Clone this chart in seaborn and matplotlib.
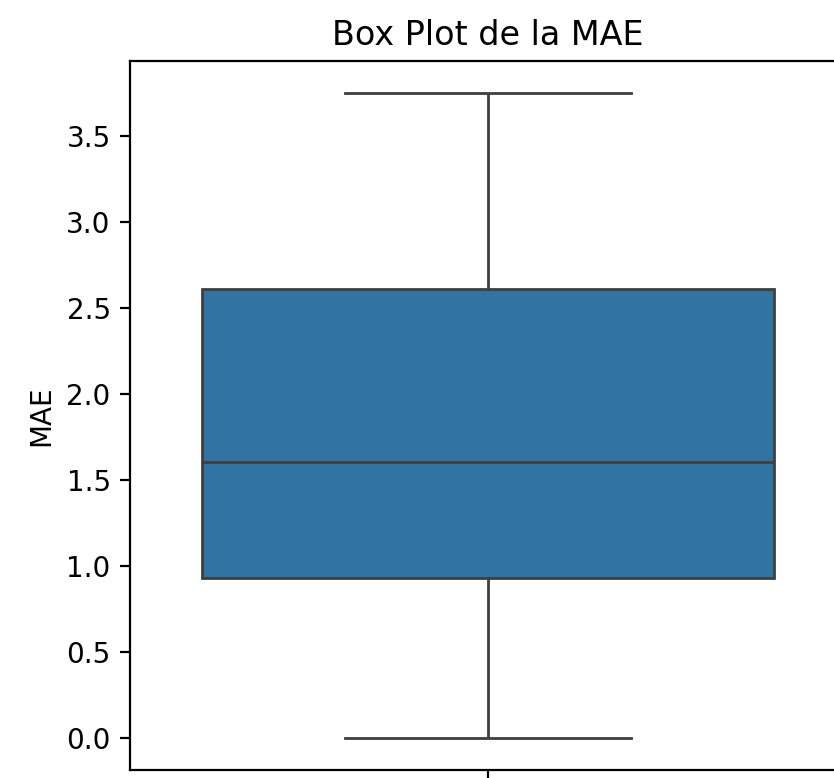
import numpy as np
import pandas as pd
import seaborn as sns
import matplotlib
matplotlib.use('Agg')
import matplotlib.pyplot as plt

# MAE values (min, Q1, median, Q3, max)
mae = [0.0, 0.927, 1.605, 2.607, 3.745]
df = pd.DataFrame({'MAE': mae})

fig = plt.figure(figsize=(4.17, 3.89), dpi=200)
# the reference is a crop: right spine and x tick label fall outside
ax = fig.add_axes([0.156, 0.0103, 0.858, 0.911])

sns.boxplot(data=df, y='MAE', ax=ax)

ax.set_title('Box Plot de la MAE')
ax.set_ylabel('MAE')
ax.spines['right'].set_visible(False)

plt.savefig('out.png', dpi=200)
